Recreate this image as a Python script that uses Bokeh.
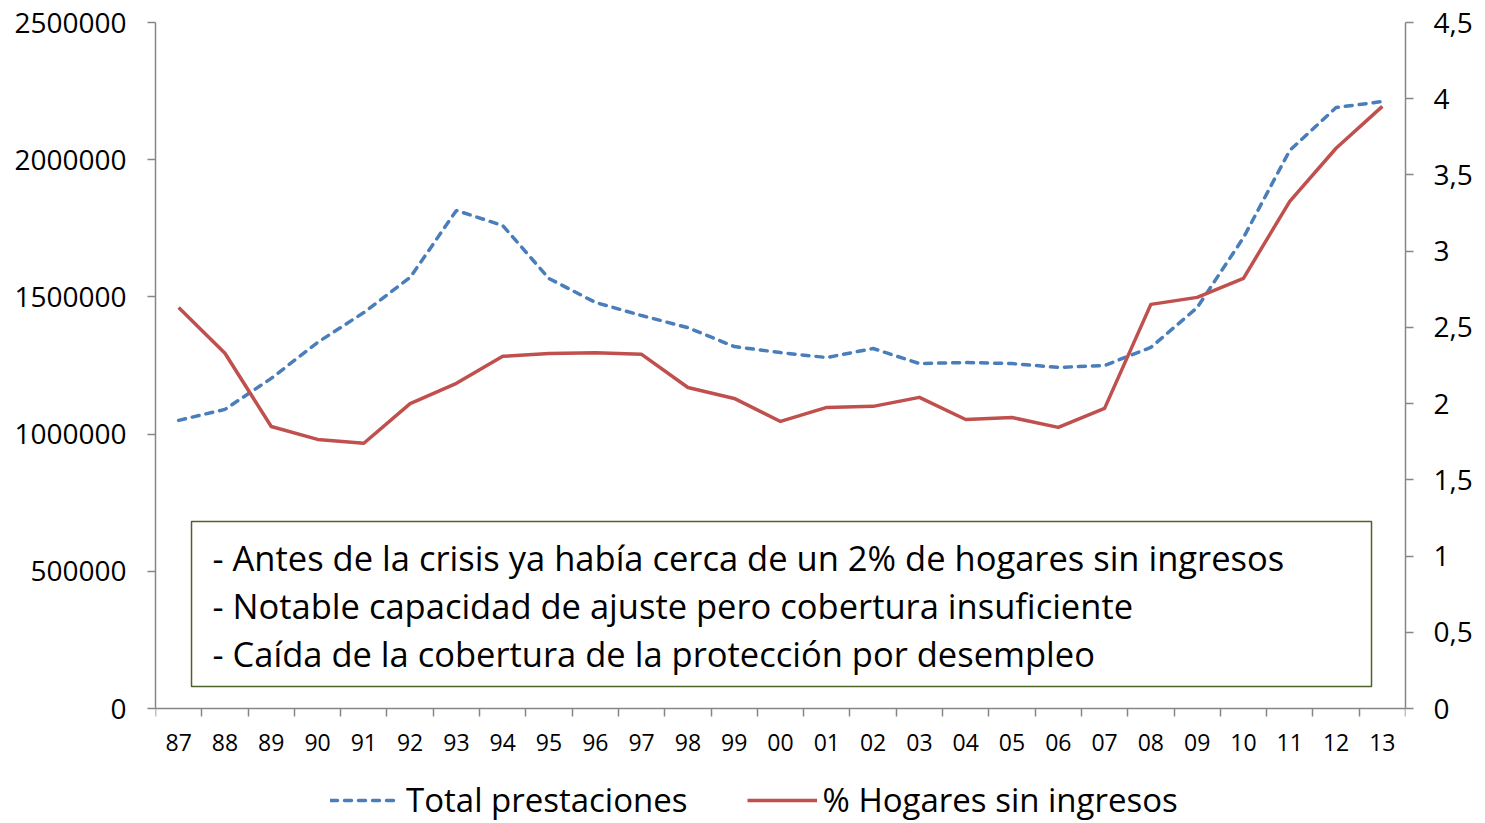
from bokeh.plotting import figure
from bokeh.models import (LinearAxis, Range1d, FixedTicker, NumeralTickFormatter,
                          CustomJSTickFormatter, BoxAnnotation, Label, Legend, LegendItem)
from bokeh.embed import file_html
from bokeh.resources import INLINE

years = ["87", "88", "89", "90", "91", "92", "93", "94", "95", "96", "97", "98", "99",
         "00", "01", "02", "03", "04", "05", "06", "07", "08", "09", "10", "11", "12", "13"]
total_prestaciones = [1050000, 1090000, 1203000, 1334000, 1443000, 1571000, 1815000, 1760000,
                      1567000, 1480000, 1432000, 1388000, 1319000, 1297000, 1279000, 1312000,
                      1257000, 1261000, 1257000, 1243000, 1250000, 1316000, 1461000, 1716000,
                      2034000, 2190000, 2212000]
hogares_sin_ingresos = [2.63, 2.33, 1.85, 1.765, 1.74, 2.0, 2.133, 2.31, 2.329, 2.333, 2.323,
                        2.106, 2.034, 1.883, 1.975, 1.982, 2.041, 1.896, 1.909, 1.844, 1.969,
                        2.651, 2.697, 2.822, 3.327, 3.675, 3.95]
left_ticks = [0, 500000, 1000000, 1500000, 2000000, 2500000]
right_ticks = [0, 0.5, 1, 1.5, 2, 2.5, 3, 3.5, 4, 4.5]
notes = ["- Antes de la crisis ya había cerca de un 2% de hogares sin ingresos",
         "- Notable capacidad de ajuste pero cobertura insuficiente",
         "- Caída de la cobertura de la protección por desempleo"]
legend_labels = ["Total prestaciones", "% Hogares sin ingresos"]

FONT = "Open Sans"
AXIS_GRAY = "#868686"
BLUE = "#4a7ebb"
RED = "#c0504d"

LEFT_MAX = 2500000
RIGHT_MAX = 4.5
# the frame runs to the bottom of the canvas; the value axes stop at 0,
# leaving room below for the category labels and the legend
BELOW_FRACTION = 115 / 686

xs = list(range(len(years)))

p = figure(width=1485, height=823, output_backend="svg", toolbar_location=None,
           x_range=Range1d(-0.5, len(years) - 0.5),
           y_range=Range1d(-LEFT_MAX * BELOW_FRACTION, LEFT_MAX),
           min_border_left=155, min_border_right=80, min_border_top=22, min_border_bottom=0,
           x_axis_location=None, y_axis_location=None)
p.outline_line_color = None
p.xgrid.visible = False
p.ygrid.visible = False
p.extra_y_ranges = {"right": Range1d(-RIGHT_MAX * BELOW_FRACTION, RIGHT_MAX)}

blue = p.line(xs, total_prestaciones, line_color=BLUE, line_width=3.5, line_dash="7 7",
              line_cap="round")
red = p.line(xs, hogares_sin_ingresos, y_range_name="right", line_color=RED, line_width=3.5,
             line_join="round")

# x axis, drawn at value 0
xaxis = LinearAxis(ticker=FixedTicker(ticks=xs, minor_ticks=[i - 0.5 for i in range(len(years) + 1)]),
                   major_label_overrides={i: y for i, y in enumerate(years)},
                   fixed_location=0)
xaxis.major_tick_out = 0
xaxis.major_tick_in = 0
xaxis.minor_tick_out = 8
xaxis.minor_tick_in = 0
xaxis.minor_tick_line_color = AXIS_GRAY
xaxis.minor_tick_line_width = 1.5
xaxis.axis_line_color = AXIS_GRAY
xaxis.axis_line_width = 1.5
xaxis.major_label_text_font = FONT
xaxis.major_label_text_font_size = "23px"
xaxis.major_label_text_color = "black"
xaxis.major_label_standoff = 17
p.add_layout(xaxis, "below")

# left axis
laxis = LinearAxis(ticker=FixedTicker(ticks=left_ticks, minor_ticks=[]),
                   formatter=NumeralTickFormatter(format="0"), bounds=(0, LEFT_MAX))
laxis.major_tick_out = 8
laxis.major_tick_in = 0
laxis.major_tick_line_color = AXIS_GRAY
laxis.major_tick_line_width = 1.5
laxis.axis_line_color = AXIS_GRAY
laxis.axis_line_width = 1.5
laxis.major_label_text_font = FONT
laxis.major_label_text_font_size = "28px"
laxis.major_label_text_color = "black"
laxis.major_label_standoff = 21
p.add_layout(laxis, "left")

# right axis
raxis = LinearAxis(y_range_name="right", ticker=FixedTicker(ticks=right_ticks, minor_ticks=[]),
                   formatter=CustomJSTickFormatter(code="return tick.toString().replace('.', ',');"),
                   bounds=(0, RIGHT_MAX))
raxis.major_tick_out = 8
raxis.major_tick_in = 0
raxis.major_tick_line_color = AXIS_GRAY
raxis.major_tick_line_width = 1.5
raxis.axis_line_color = AXIS_GRAY
raxis.axis_line_width = 1.5
raxis.major_label_text_font = FONT
raxis.major_label_text_font_size = "28px"
raxis.major_label_text_color = "black"
raxis.major_label_standoff = 20
p.add_layout(raxis, "right")

# note box
box = BoxAnnotation(left=0.278, right=25.766, top=681500, bottom=80200,
                    fill_color="white", fill_alpha=1.0, line_color="#4f6228", line_alpha=1.0,
                    line_width=1.5)
p.add_layout(box)
note_y = [550300, 375400, 200400]
for txt, yv in zip(notes, note_y):
    p.add_layout(Label(x=0.731, y=yv, text=txt, text_baseline="middle", text_align="left",
                       text_font=FONT, text_font_size="34.5px", text_color="black"))

legend = Legend(items=[LegendItem(label=legend_labels[0], renderers=[blue]),
                       LegendItem(label=legend_labels[1], renderers=[red])],
                orientation="horizontal", location=(175, 1))
legend.label_text_font = FONT
legend.label_text_font_size = "33px"
legend.label_text_color = "black"
legend.glyph_width = 70
legend.glyph_height = 20
legend.label_standoff = 6
legend.spacing = 59
legend.padding = 0
legend.margin = 0
legend.border_line_color = None
legend.background_fill_alpha = 0
p.add_layout(legend)

open("out.html", "w").write(file_html(p, INLINE))
